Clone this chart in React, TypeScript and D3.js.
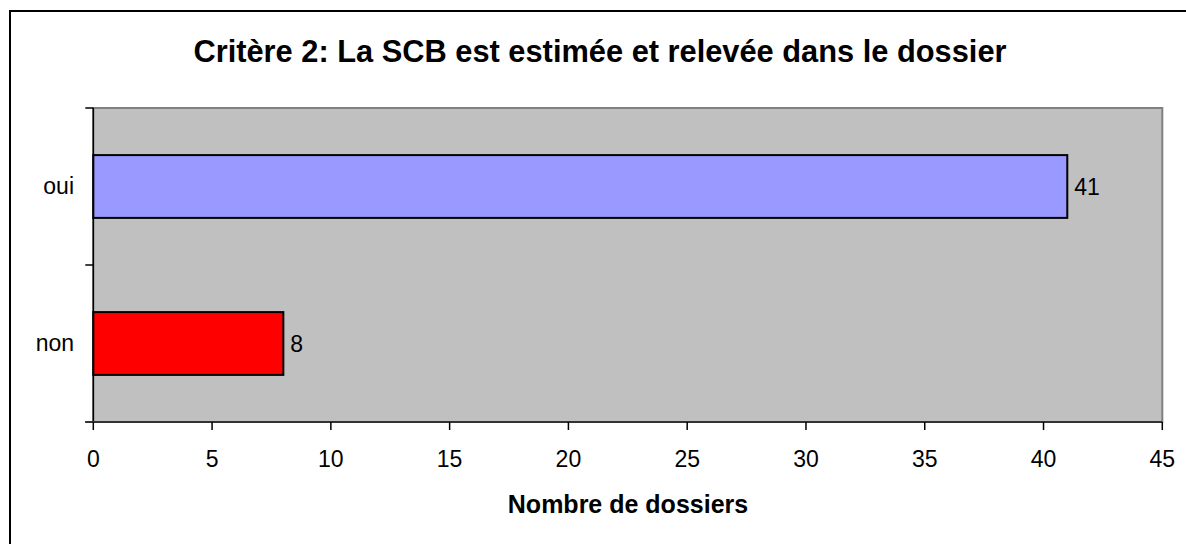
import React from "react";
import * as d3 from "d3";

const categories = ["oui", "non"];
const values = [41, 8];
const barColors = ["#9999FF", "#FF0000"];
const xTicks = [0, 5, 10, 15, 20, 25, 30, 35, 40, 45];
const titleText = "Critère 2: La SCB est estimée et relevée dans le dossier";
const xAxisTitle = "Nombre de dossiers";

const W = 1186;
const H = 544;
const plot = { left: 93.3, right: 1162.3, top: 108, bottom: 422 };
const font = "Liberation Sans, Arial, Helvetica, sans-serif";

export default function App() {
  const x = d3.scaleLinear().domain([0, 45]).range([plot.left, plot.right]);
  const y = d3
    .scaleBand<string>()
    .domain(categories)
    .range([plot.top, plot.bottom])
    .paddingInner(0.6)
    .paddingOuter(0.3);
  const step = y.step();
  const boundaries = d3.range(categories.length + 1).map((i) => plot.top + i * step);

  return (
    <svg
      width={W}
      height={H}
      style={{ position: "absolute", left: 0, top: 0, display: "block", background: "#fff" }}
      fontFamily={font}
    >
      {/* outer chart border */}
      <rect x={10} y={11} width={1200} height={560} fill="#fff" stroke="#000" strokeWidth={2} />
      {/* title */}
      <text x={600} y={62} textAnchor="middle" fontSize={30.8} fontWeight="bold" fill="#000">
        {titleText}
      </text>
      {/* plot area */}
      <rect
        x={plot.left}
        y={plot.top}
        width={plot.right - plot.left}
        height={plot.bottom - plot.top}
        fill="#C0C0C0"
        stroke="#808080"
        strokeWidth={2}
      />
      {/* bars */}
      {categories.map((c, i) => (
        <rect
          key={c}
          x={x(0)}
          y={y(c)!}
          width={x(values[i]) - x(0)}
          height={y.bandwidth()}
          fill={barColors[i]}
          stroke="#000"
          strokeWidth={2}
        />
      ))}
      {/* value labels */}
      {categories.map((c, i) => (
        <text
          key={c + "v"}
          x={x(values[i]) + 7}
          y={y(c)! + y.bandwidth() / 2 + 8.5}
          fontSize={23}
          fill="#000"
        >
          {values[i]}
        </text>
      ))}
      {/* y axis */}
      <line x1={plot.left} x2={plot.left} y1={plot.top} y2={plot.bottom} stroke="#000" strokeWidth={1.5} />
      {boundaries.map((b, i) => (
        <line key={"yt" + i} x1={plot.left - 8} x2={plot.left} y1={b} y2={b} stroke="#000" strokeWidth={1.5} />
      ))}
      {categories.map((c) => (
        <text
          key={c + "l"}
          x={74}
          y={y(c)! + y.bandwidth() / 2 + 7}
          textAnchor="end"
          fontSize={23}
          fill="#000"
        >
          {c}
        </text>
      ))}
      {/* x axis */}
      <line x1={plot.left - 8} x2={plot.right} y1={plot.bottom} y2={plot.bottom} stroke="#333" strokeWidth={2} />
      {xTicks.map((t) => (
        <g key={"xt" + t}>
          <line x1={x(t)} x2={x(t)} y1={plot.bottom} y2={plot.bottom + 8} stroke="#000" strokeWidth={1.5} />
          <text x={x(t)} y={467} textAnchor="middle" fontSize={23} fill="#000">
            {t}
          </text>
        </g>
      ))}
      <text x={628} y={513} textAnchor="middle" fontSize={25} fontWeight="bold" fill="#000">
        {xAxisTitle}
      </text>
    </svg>
  );
}
